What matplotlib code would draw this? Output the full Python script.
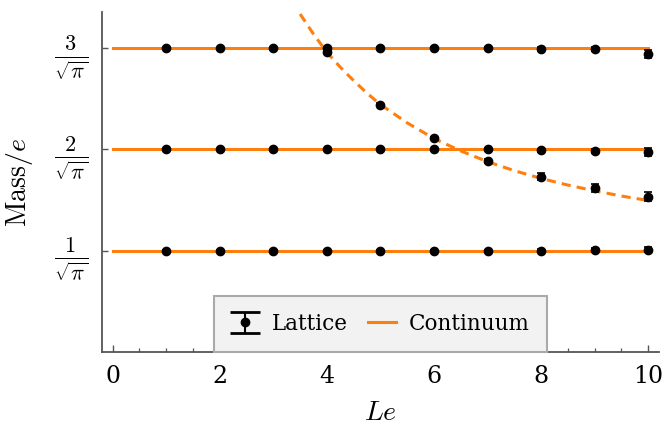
import numpy as np
import matplotlib
matplotlib.use("Agg")
import matplotlib.pyplot as plt
from matplotlib.ticker import MultipleLocator

# ---- data ---------------------------------------------------------------
L = [1, 2, 3, 4, 5, 6, 7, 8, 9, 10]

# lattice masses on the three flat levels
level1 = [0.5642, 0.5642, 0.5642, 0.5642, 0.5642, 0.5642, 0.5645, 0.5648, 0.568, 0.5714]
level1_err = [0.003, 0.003, 0.003, 0.003, 0.004, 0.004, 0.005, 0.008, 0.012, 0.014]
level2 = [1.1284, 1.1284, 1.1284, 1.1284, 1.1284, 1.1284, 1.1280, 1.123, 1.119, 1.115]
level2_err = [0.003, 0.003, 0.003, 0.003, 0.004, 0.004, 0.006, 0.010, 0.013, 0.022]
level3 = [1.6926, 1.6926, 1.6926, 1.6926, 1.6926, 1.6926, 1.6920, 1.689, 1.686, 1.661]
level3_err = [0.003, 0.003, 0.003, 0.004, 0.004, 0.005, 0.006, 0.009, 0.012, 0.022]

# lattice masses that follow the dashed curve
L_moving = [4, 5, 6, 7, 8, 9, 10]
moving = [1.668, 1.378, 1.193, 1.063, 0.977, 0.912, 0.866]
moving_err = [0.006, 0.006, 0.007, 0.010, 0.018, 0.022, 0.027]

# continuum: flat levels and the dashed curve
levels = [1 / np.sqrt(np.pi), 2 / np.sqrt(np.pi), 3 / np.sqrt(np.pi)]
level_L = [0, 10]
curve_L = [3.5, 3.75, 4, 4.25, 4.5, 4.75, 5, 5.5, 6, 6.5, 7, 7.5, 8, 8.5, 9, 9.5, 10]
curve_M = [1.882, 1.770, 1.669, 1.586, 1.511, 1.441, 1.378, 1.276, 1.189, 1.120,
           1.060, 1.010, 0.967, 0.930, 0.898, 0.869, 0.844]

ytick_labels = [r"$\frac{1}{\sqrt{\pi}}$", r"$\frac{2}{\sqrt{\pi}}$", r"$\frac{3}{\sqrt{\pi}}$"]

# ---- style ---------------------------------------------------------------
plt.rcParams["font.family"] = ["DejaVu Serif"]
plt.rcParams["mathtext.fontset"] = "cm"

orange = "#ff7f0e"
grey = "#555555"

fig = plt.figure(figsize=(6.71, 4.30), dpi=100)
ax = fig.add_axes([0.152, 0.181, 0.830, 0.791])

for lev in levels:
    ax.plot(level_L, [lev, lev], color=orange, lw=2.2, zorder=1)
ax.plot(curve_L, curve_M, color=orange, lw=2.2, ls=(0, (3, 2)), zorder=1)

eb_kw = dict(fmt="o", color="black", ms=6, elinewidth=1.2, capsize=3,
             capthick=1.2, zorder=3)
ax.errorbar(L, level1, yerr=level1_err, **eb_kw)
ax.errorbar(L, level2, yerr=level2_err, **eb_kw)
ax.errorbar(L, level3, yerr=level3_err, **eb_kw)
ax.errorbar(L_moving, moving, yerr=moving_err, **eb_kw)

# legend proxy with wide caps, like the reference key
h_lat = ax.errorbar([np.nan], [np.nan], yerr=[np.nan], fmt="o", color="black",
                    ms=6, elinewidth=1.5, capsize=11, capthick=2.0)

ax.set_xlim(-0.2, 10.2)
ax.set_ylim(0.0, 1.893)

ax.set_xticks([0, 2, 4, 6, 8, 10])
ax.xaxis.set_minor_locator(MultipleLocator(0.5))
ax.set_yticks(levels)
ax.set_yticklabels(ytick_labels)

for side in ["top", "right"]:
    ax.spines[side].set_visible(False)
for side in ["left", "bottom"]:
    ax.spines[side].set_color(grey)
    ax.spines[side].set_linewidth(1.3)

ax.tick_params(axis="both", which="both", direction="in", color=grey)
ax.tick_params(axis="x", which="major", length=5, width=1.0, labelsize=17, pad=9)
ax.tick_params(axis="x", which="minor", length=3, width=0.9)
ax.tick_params(axis="y", which="major", length=4, width=1.0, labelsize=23, pad=10)

ax.set_xlabel(r"$Le$", fontsize=20, labelpad=8)
ax.set_ylabel(r"$\mathrm{Mass}/e$", fontsize=20, labelpad=14)

cont_handle = plt.Line2D([], [], color=orange, lw=2.2)
leg = ax.legend([h_lat, cont_handle], ["Lattice", "Continuum"], loc="lower center",
                ncol=2, fontsize=15.5, frameon=True, fancybox=False,
                borderaxespad=0.0, handlelength=1.3, columnspacing=0.9,
                handletextpad=0.6, borderpad=0.8)
leg.get_frame().set_facecolor("#f2f2f2")
leg.get_frame().set_edgecolor("#aaaaaa")
leg.get_frame().set_linewidth(1.5)
leg.get_frame().set_alpha(1.0)

fig.savefig("out.png", dpi=100)
